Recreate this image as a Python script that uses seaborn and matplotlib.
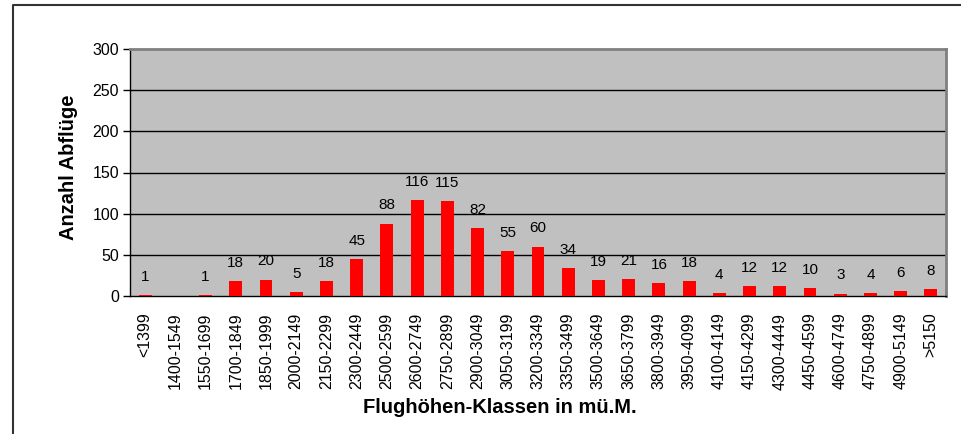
import matplotlib
matplotlib.use("Agg")
import matplotlib.pyplot as plt
import seaborn as sns
import pandas as pd
from matplotlib.lines import Line2D

classes = ["<1399", "1400-1549", "1550-1699", "1700-1849", "1850-1999", "2000-2149",
           "2150-2299", "2300-2449", "2500-2599", "2600-2749", "2750-2899", "2900-3049",
           "3050-3199", "3200-3349", "3350-3499", "3500-3649", "3650-3799", "3800-3949",
           "3950-4099", "4100-4149", "4150-4299", "4300-4449", "4450-4599", "4600-4749",
           "4750-4899", "4900-5149", ">5150"]
counts = [1, 0, 1, 18, 20, 5, 18, 45, 88, 116, 115, 82, 55, 60, 34, 19, 21, 16, 18,
          4, 12, 12, 10, 3, 4, 6, 8]
labels = ["1", "", "1", "18", "20", "5", "18", "45", "88", "116", "115", "82", "55", "60",
          "34", "19", "21", "16", "18", "4", "12", "12", "10", "3", "4", "6", "8"]
yticks = [0, 50, 100, 150, 200, 250, 300]

df = pd.DataFrame({"Klasse": classes, "Anzahl": counts})

sns.set_theme(style="white")
plt.rcParams["font.family"] = ["Liberation Sans", "DejaVu Sans"]
plt.rcParams["text.color"] = "black"
plt.rcParams["axes.labelcolor"] = "black"

fig = plt.figure(figsize=(9.62, 4.34), dpi=100)
ax = fig.add_axes([130 / 962, 1 - 296 / 434, (946 - 130) / 962, (296 - 49) / 434])

sns.barplot(data=df, x="Klasse", y="Anzahl", color="#FF0000", width=0.43,
            saturation=1, ax=ax, zorder=3)
for p in ax.patches:
    p.set_edgecolor("none")

ax.set_facecolor("#C0C0C0")
ax.set_ylim(0, 300)
ax.set_xlim(-0.5, len(classes) - 0.5)
ax.set_yticks(yticks)
ax.set_yticklabels([str(v) for v in yticks], fontsize=11.5, color="black")
for v in yticks[1:-1]:
    ax.axhline(v, color="black", lw=1, zorder=1)

ax.set_xticks(range(len(classes)))
ax.set_xticklabels(classes, rotation=90, fontsize=11.5, color="black")
ax.tick_params(axis="x", which="major", length=0, pad=12)
ax.set_xticks([i - 0.5 for i in range(len(classes) + 1)], minor=True)
ax.tick_params(axis="x", which="minor", length=5, width=1, color="black", direction="out")
ax.tick_params(axis="y", length=5, width=1, color="black", direction="out", left=True, pad=3)

ax.bar_label(ax.containers[0], labels=labels, padding=8, fontsize=11, color="black")

for s in ["top", "right"]:
    ax.spines[s].set_color("#808080")
    ax.spines[s].set_linewidth(2)
for s in ["left", "bottom"]:
    ax.spines[s].set_color("black")
    ax.spines[s].set_linewidth(1)

ax.set_xlabel("Flughöhen-Klassen in mü.M.", fontsize=14.5, fontweight="bold", color="black")
ax.set_ylabel("Anzahl Abflüge", fontsize=14.5, fontweight="bold", color="black")
ax.xaxis.set_label_coords((500 - 130) / 816, -(407 - 296) / 247)
ax.yaxis.set_label_coords(-(130 - 68) / 816, (296 - 167) / 247)
ax.xaxis.label.set_va("center")
ax.yaxis.label.set_va("center")

fig.add_artist(Line2D([13 / 962, 13 / 962, 1.0], [0.0, 1 - 5 / 434, 1 - 5 / 434],
                      transform=fig.transFigure, color="#333333", lw=1.5))

fig.savefig("out.png", dpi=100)
